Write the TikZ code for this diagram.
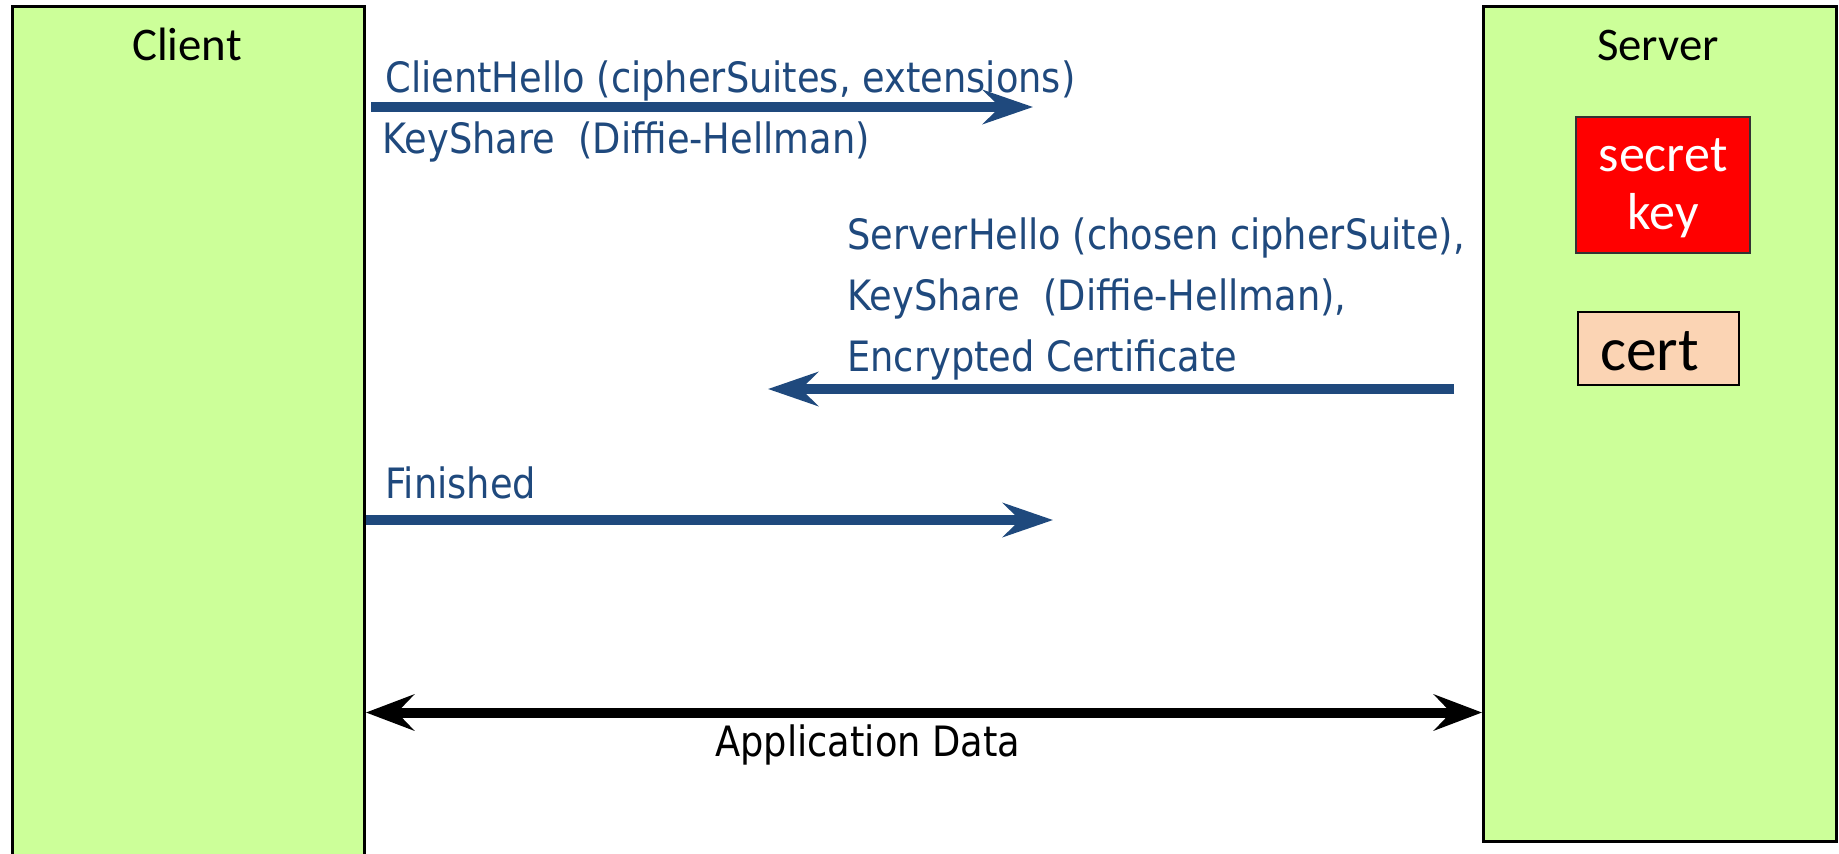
\documentclass[tikz,border=0pt]{standalone}
\usepackage{fontspec}
\setmainfont{Carlito}
\newfontfamily\msgfont[FakeStretch=0.88]{DejaVu Sans}
\usetikzlibrary{arrows.meta}
\definecolor{msgblue}{HTML}{1F497D}
\definecolor{lanegreen}{HTML}{CCFF99}
\definecolor{keyred}{HTML}{FF0000}
\definecolor{certpeach}{HTML}{FBD4B4}

\begin{document}
\begin{tikzpicture}[x=0.5pt,y=-0.5pt,
  lane/.style={draw=black, line width=1.5pt, fill=lanegreen, anchor=north west, inner sep=0pt},
  title/.style={font=\fontsize{23.4}{28}\selectfont, anchor=base, inner sep=0pt},
  msg/.style={font=\msgfont\fontsize{20.9}{25}\selectfont, text=msgblue, anchor=base west, inner sep=0pt},
  msgarrow/.style={draw=msgblue, line width=4.75pt, -{Stealth[length=25pt,width=17pt,inset=8.5pt]}},
  dataarrow/.style={draw=black, line width=5pt,
    {Stealth[length=24pt,width=18pt,inset=8.5pt]}-{Stealth[length=24pt,width=18pt,inset=8.5pt]}},
]
\useasboundingbox (0,0) rectangle (1839,853);
\clip (0,0) rectangle (1839,853);

% the two parties
\node[lane, minimum width=176pt, minimum height=450pt] (client) at (11,5) {};
\node[lane, minimum width=176.5pt, minimum height=417.5pt] (server) at (1482,5) {};
\node[title] (clientlabel) at (187,60) {Client};
\node[title] (serverlabel) at (1658,60) {Server};

% server-side secrets
\node[draw=black!80, line width=1pt, fill=keyred, text=white, align=center,
      minimum width=87pt, minimum height=68pt, inner sep=0pt,
      font=\fontsize{26}{28.8}\selectfont] (secret) at (1663,185) {\rule{0pt}{19.5pt}secret\\key};
\node[draw=black, line width=1pt, fill=certpeach, align=left,
      text width=58.5pt, inner xsep=11pt, inner ysep=0pt, minimum height=36.5pt,
      font=\fontsize{30.8}{34}\selectfont] (cert) at (1658.5,348.5) {\rule{0pt}{22.5pt}cert};

% ClientHello
\node[msg] (chello) at (385,92.7) {ClientHello (cipherSuites, extensions)};
\node[msg] (ckeyshare) at (382,153.3) {KeyShare\ \ (Diffie-Hellman)};
\coordinate (ch-tail) at (371,107);
\coordinate (ch-tip) at (1033,107);
\draw[msgarrow] (ch-tail) -- (ch-tip);

% ServerHello
\node[msg] (shello) at (847,249.3) {ServerHello (chosen cipherSuite),};
\node[msg] (skeyshare) at (847,310) {KeyShare\ \ (Diffie-Hellman),};
\node[msg] (scert) at (847,371.7) {Encrypted Certificate};
\coordinate (sh-tail) at (1454,389);
\coordinate (sh-tip) at (768,389);
\draw[msgarrow] (sh-tail) -- (sh-tip);

% Finished
\node[msg] (fin) at (385,498.3) {Finished};
\coordinate (fin-tip) at (1053,520);
\draw[msgarrow] (client.east |- fin-tip) -- (fin-tip);

% application data in both directions
\coordinate (app-level) at (0,712.5);
\draw[dataarrow] (client.east |- app-level) -- (server.west |- app-level);
\node[msg, text=black] (appdata) at (715,756.7) {Application Data};
\end{tikzpicture}
\end{document}
